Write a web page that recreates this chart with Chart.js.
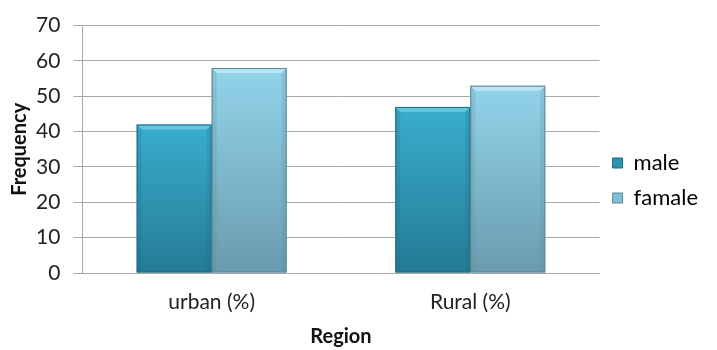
<!DOCTYPE html>
<html>
<head>
<meta charset="utf-8">
<script src="https://cdn.jsdelivr.net/npm/chart.js@4/dist/chart.umd.min.js"></script>
<style>
  html, body { margin: 0; padding: 0; background: #ffffff; }
  #wrap { width: 717px; height: 350px; position: relative; }
</style>
</head>
<body>
<div id="wrap"><canvas id="chart" width="717" height="350"></canvas></div>
<script>
// Share of respondents by region and sex
const regions = ['urban (%)', 'Rural (%)'];
const maleValues = [42, 47];
const femaleValues = [58, 53];
const seriesNames = ['male', 'famale'];
const yTicks = [0, 10, 20, 30, 40, 50, 60, 70];

const FONT = 'Lato, "Open Sans", sans-serif';
const TEXT = '#222222';
const GRID = '#a8a8a8';

// colour ramps per series
const palettes = [
  { top: '#39aecd', bottom: '#247b95', light: '#6cc9e2', edge: '#1f6a80', legend: '#2c93b1' },
  { top: '#92d4ea', bottom: '#6a9bae', light: '#bfe9f6', edge: '#5b8797', legend: '#80bfd4' }
];

// vertical gradient spanning each bar from its value down to the baseline
function barGradient(ctx, pal) {
  const chart = ctx.chart;
  if (!chart.chartArea || ctx.raw === undefined) return pal.legend;
  const y = chart.scales.y;
  const top = y.getPixelForValue(ctx.raw);
  const base = y.getPixelForValue(0);
  const g = chart.ctx.createLinearGradient(0, top, 0, base);
  g.addColorStop(0, pal.top);
  g.addColorStop(1, pal.bottom);
  return g;
}

// soft bevel on the top and sides of each bar
const bevel = {
  id: 'bevel',
  afterDatasetsDraw(chart) {
    const c = chart.ctx;
    chart.data.datasets.forEach((ds, di) => {
      const pal = palettes[di];
      chart.getDatasetMeta(di).data.forEach(el => {
        const { x, y, base, width } = el.getProps(['x', 'y', 'base', 'width'], true);
        const l = x - width / 2, r = x + width / 2, b = 5;
        c.save();
        c.fillStyle = pal.light;
        c.globalAlpha = 0.85;
        c.beginPath();
        c.moveTo(l, y); c.lineTo(r, y); c.lineTo(r - b, y + b); c.lineTo(l + b, y + b);
        c.closePath(); c.fill();
        c.globalAlpha = 0.2;
        c.fillStyle = pal.edge;
        c.beginPath();
        c.moveTo(l, y); c.lineTo(l + b, y + b); c.lineTo(l + b, base); c.lineTo(l, base);
        c.closePath(); c.fill();
        c.beginPath();
        c.moveTo(r, y); c.lineTo(r - b, y + b); c.lineTo(r - b, base); c.lineTo(r, base);
        c.closePath(); c.fill();
        c.globalAlpha = 1;
        c.strokeStyle = pal.edge;
        c.lineWidth = 1;
        c.strokeRect(l + 0.5, y + 0.5, width - 1, base - y - 1);
        c.restore();
      });
    });
  }
};

new Chart(document.getElementById('chart'), {
  type: 'bar',
  data: {
    labels: regions,
    datasets: [
      { label: seriesNames[0], data: maleValues,
        backgroundColor: ctx => barGradient(ctx, palettes[0]) },
      { label: seriesNames[1], data: femaleValues,
        backgroundColor: ctx => barGradient(ctx, palettes[1]) }
    ]
  },
  options: {
    responsive: false,
    animation: false,
    devicePixelRatio: 1,
    layout: { padding: { left: 0, right: 9, top: 11, bottom: 0 } },
    datasets: { bar: { categoryPercentage: 0.58, barPercentage: 1.0 } },
    plugins: {
      tooltip: { enabled: false },
      legend: {
        position: 'right',
        align: 'center',
        labels: {
          boxWidth: 10,
          boxHeight: 10,
          padding: 13,
          color: TEXT,
          font: { family: FONT, size: 22 },
          generateLabels(chart) {
            return chart.data.datasets.map((ds, i) => ({
              text: ds.label,
              fillStyle: palettes[i].legend,
              strokeStyle: palettes[i].edge,
              lineWidth: 1,
              datasetIndex: i
            }));
          }
        }
      }
    },
    scales: {
      x: {
        grid: { display: false, drawTicks: false },
        border: { display: true, color: GRID, width: 1 },
        ticks: { color: TEXT, padding: 0, font: { family: FONT, size: 21, lineHeight: 58 / 21 } },
        title: {
          display: true, text: 'Region', color: '#111',
          font: { family: FONT, size: 20, weight: 'bold', lineHeight: 0.6 },
          padding: { top: 0, bottom: 7 }
        }
      },
      y: {
        min: 0, max: 70,
        afterBuildTicks(scale) { scale.ticks = yTicks.map(v => ({ value: v })); },
        grid: { color: GRID, lineWidth: 1, drawTicks: true, tickLength: 9, tickColor: GRID },
        border: { display: true, color: GRID, width: 1 },
        ticks: { color: TEXT, padding: 13, font: { family: FONT, size: 21 } },
        title: {
          display: true, text: 'Frequency', color: '#111',
          font: { family: FONT, size: 20, weight: 'bold', lineHeight: 0.3 },
          padding: { top: 17, bottom: 0 }
        }
      }
    }
  },
  plugins: [bevel]
});
</script>
</body>
</html>
